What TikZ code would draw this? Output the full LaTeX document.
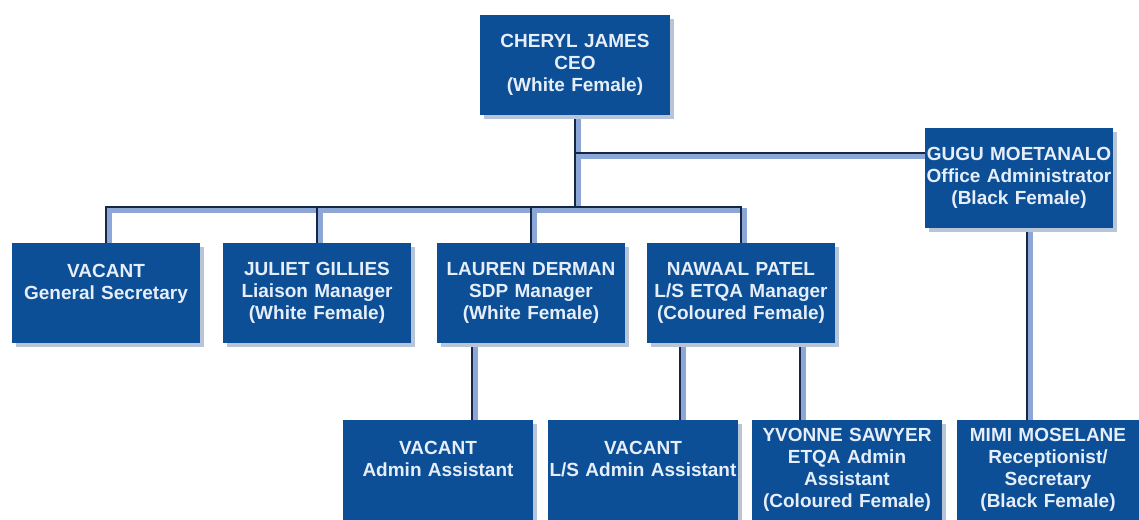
\documentclass[tikz,border=0pt]{standalone}
\usepackage{fontspec}
\setmainfont{Liberation Sans}
\usetikzlibrary{positioning, calc, backgrounds}

\definecolor{boxblue}{RGB}{12,79,150}
\definecolor{boxtext}{RGB}{230,238,250}
\definecolor{boxshade}{RGB}{184,196,216}
\definecolor{linedark}{RGB}{22,38,70}
\definecolor{lineshade}{RGB}{140,166,214}

\begin{document}
\begin{tikzpicture}[x=1pt, y=-1pt,
    post/.style={fill=boxblue, text=boxtext, font=\bfseries\fontsize{19}{22}\selectfont,
        align=center, inner sep=0pt, text width=#1, minimum width=#1, minimum height=100pt,
        preaction={fill=boxshade, transform canvas={shift={(4pt,-4pt)}}}},
    post/.default=188pt,
    orgshade/.style={draw=lineshade, line width=4.5pt, transform canvas={shift={(3.5pt,-3.5pt)}}},
    orgline/.style={draw=linedark, line width=2pt}]
    \useasboundingbox (0,0) rectangle (1139,519);

    % Top
    \node[post=190pt] (ceo) at (575,65) {CHERYL JAMES\\CEO\\(White Female)};
    \node[post] (gugu) at (1019,178) {GUGU MOETANALO\\Office Administrator\\(Black Female)};

    % Managers
    \node[post] (gs) at (106,293) {VACANT\\General Secretary\\\mbox{}};
    \node[post] (jg) at (317,293) {JULIET GILLIES\\Liaison Manager\\(White Female)};
    \node[post] (ld) at (531,293) {LAUREN DERMAN\\SDP Manager\\(White Female)};
    \node[post] (nw) at (741,293) {NAWAAL PATEL\\L/S ETQA Manager\\(Coloured Female)};

    % Assistants
    \node[post=190pt] (vaa) at (438,470) {VACANT\\Admin Assistant\\\mbox{}};
    \node[post=190pt] (vls) at (643,470) {VACANT\\L/S Admin Assistant\\\mbox{}};
    \node[post=190pt] (ys) at (847,470) {YVONNE SAWYER\\ETQA Admin\\Assistant\\(Coloured Female)};
    \node[post=182pt] (mm) at (1048,470) {MIMI MOSELANE\\Receptionist/\\Secretary\\(Black Female)};

    \coordinate (bus) at ($(ceo.south)+(0,92)$);
    \coordinate (branch) at ($(ceo.south)+(0,38)$);

    % Connectors, shadow first
    \begin{scope}[on background layer]
    \foreach \s in {orgshade, orgline} {
        \draw[\s] (ceo.south) -- (bus);
        \draw[\s] (branch) -- (branch -| gugu.west);
        \foreach \n in {gs, jg, ld, nw}
            \draw[\s] (\n.north) |- (bus);
        \draw[\s] ([xshift=-59pt]ld.south) -- ([xshift=-59pt]ld.south |- vaa.north);
        \draw[\s] ([xshift=-61pt]nw.south) -- ([xshift=-61pt]nw.south |- vls.north);
        \draw[\s] ([xshift=59pt]nw.south) -- ([xshift=59pt]nw.south |- ys.north);
        \draw[\s] ([xshift=8pt]gugu.south) -- ([xshift=8pt]gugu.south |- mm.north);
    }
    \end{scope}
\end{tikzpicture}
\end{document}
